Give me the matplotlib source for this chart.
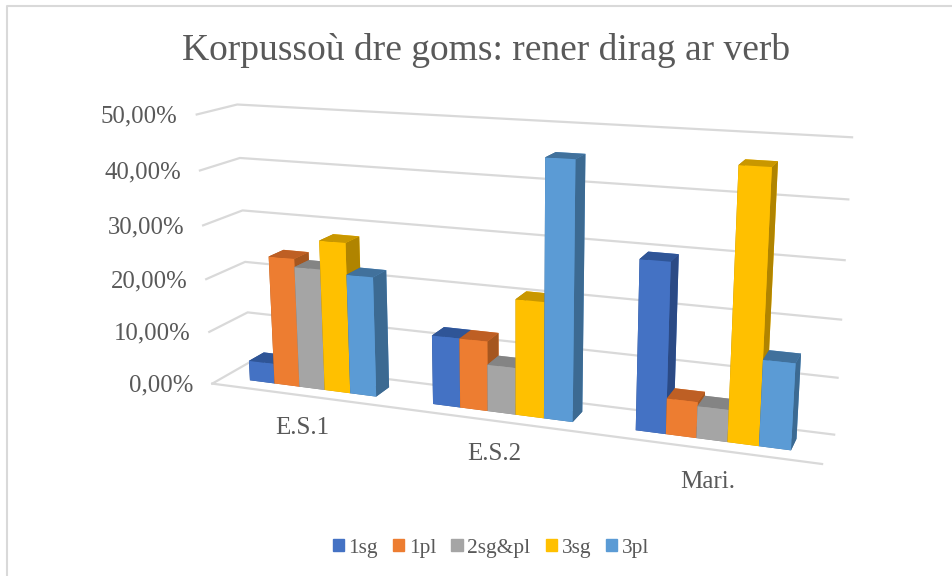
import matplotlib
matplotlib.use('Agg')
import matplotlib.pyplot as plt
from matplotlib.lines import Line2D
from matplotlib.patches import Patch
from mpl_toolkits.mplot3d import proj3d

categories = ['E.S.1', 'E.S.2', 'Mari.']
series = ['1sg', '1pl', '2sg&pl', '3sg', '3pl']
values_1sg = [3.8, 12.7, 29.7]
values_1pl = [24.2, 12.7, 6.3]
values_2sg = [22.7, 8.5, 5.6]
values_3sg = [28, 20.8, 46.2]
values_3pl = [22.2, 45.5, 14.8]
ticks = [0, 10, 20, 30, 40, 50]
tick_labels = ['0,00%', '10,00%', '20,00%', '30,00%', '40,00%', '50,00%']

front_col = ['#4472C4', '#ED7D31', '#A5A5A5', '#FFC000', '#5B9BD5']
top_col = ['#2F5597', '#BE5F24', '#848484', '#C99700', '#41719C']
side_col = ['#2B4A85', '#A5561F', '#7F7F7F', '#B08400', '#3C6A92']
text_col = '#595959'
grid_col = '#d9d9d9'

plt.rcParams['font.family'] = ['Liberation Serif', 'DejaVu Serif']

W, H = 953, 576
fig = plt.figure(figsize=(W / 100, H / 100), dpi=100)
ax = fig.add_axes([0.15680, -0.08955, 0.73024, 1.20819], projection='3d')
ax.set_xlim(0, 3)
ax.set_ylim(0, 1)
ax.set_zlim(0, 50)

# camera fitted to the corners of the walls in the picture
ax.view_init(elev=14.5707, azim=-69.3997, roll=0.12)
ax.set_proj_type('persp', focal_length=0.3738)
ax.set_box_aspect((1, 0.1218, 0.4488))
ax.set_axis_off()
ax.patch.set_alpha(0)
ax.computed_zorder = False

# gridlines on back and left wall
for t in ticks:
    ax.plot([3, 0, 0], [1, 1, 0], [t, t, t], color=grid_col, lw=1.6, zorder=1, clip_on=False)
ax.plot([0, 3], [0, 0], [0, 0], color=grid_col, lw=1.6, zorder=1, clip_on=False)

all_vals = [values_1sg, values_1pl, values_2sg, values_3sg, values_3pl]
bar_w = 0.14
first = 0.15
z = 2
# drawn left to right so the nearer bars end up on top
for c in range(len(categories)):
    for s in range(len(series)):
        colors = [top_col[s], top_col[s], front_col[s], front_col[s], side_col[s], side_col[s]]
        ax.bar3d(c + first + s * bar_w, 0.3, 0, bar_w, 0.4, all_vals[s][c], color=colors, shade=False, zorder=z)
        z += 1

M = ax.get_proj()
for t, lab in zip(ticks, tick_labels):
    u, v, _ = proj3d.proj_transform(0, 0, t, M)
    ax.annotate(lab, (u, v), xytext=(-19, -2), textcoords='offset pixels', ha='right', va='center',
                fontsize=17.8, color=text_col, annotation_clip=False)
for c, lab in enumerate(categories):
    u, v, _ = proj3d.proj_transform(c + 0.5, 0, 0, M)
    ax.annotate(lab, (u, v), xytext=(1, -33), textcoords='offset pixels', ha='center', va='center',
                fontsize=18, color=text_col, annotation_clip=False)

fig.text(486 / W, 1 - 51 / H, 'Korpussoù dre goms: rener dirag ar verb', ha='center', va='center',
         fontsize=27, color=text_col)
handles = [Patch(color=col, label=lab) for col, lab in zip(front_col, series)]
fig.legend(handles=handles, loc='center', bbox_to_anchor=(491 / W, 1 - 548 / H), ncol=5, frameon=False,
           fontsize=15.4, labelcolor=text_col, handlelength=0.52, handleheight=0.52, columnspacing=0.7, handletextpad=0.23)
fig.add_artist(Line2D([6.5 / W, 6.5 / W, 1], [0, 1 - 5.5 / H, 1 - 5.5 / H], transform=fig.transFigure,
                      color=grid_col, lw=1.5))
fig.savefig('out.png', dpi=100)
